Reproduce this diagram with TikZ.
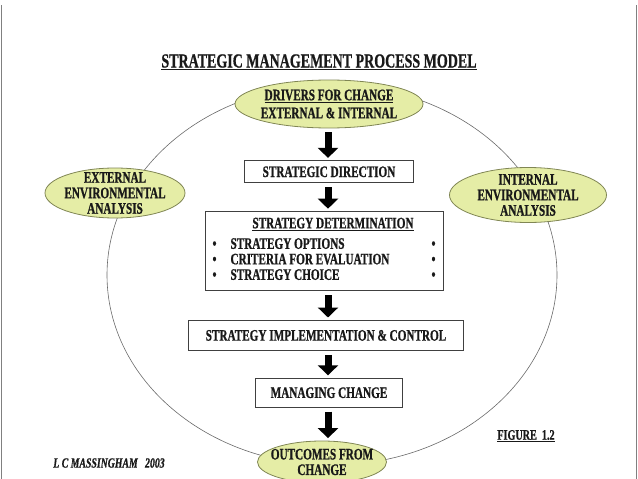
\documentclass[tikz,border=0pt]{standalone}
\usepackage{fontspec}
\setmainfont{Liberation Serif}[FakeStretch=0.70,
    BoldFeatures={FakeBold=0.8}, BoldItalicFeatures={FakeBold=0.8}]
\usepackage{xcolor}
\usepackage{tikz}
\usetikzlibrary{positioning,arrows.meta,shapes.geometric}

\definecolor{ellfill}{RGB}{229,237,166}
\definecolor{elledge}{RGB}{128,134,84}
\definecolor{ringgray}{RGB}{105,105,105}
\definecolor{inkgray}{RGB}{25,25,25}

\begin{document}
\begin{tikzpicture}[
    x=1pt, y=-1pt,
    every node/.style={font=\fontsize{16}{15.5}\selectfont\bfseries,
                       text=inkgray, align=center},
    box/.style={rectangle, draw=black!75, line width=0.8pt, fill=white,
                inner sep=4pt},
    ell/.style={ellipse, draw=elledge, line width=0.8pt, fill=ellfill,
                inner sep=0pt},
    arr/.style={line width=7pt, -{Triangle[width=20pt,length=10pt]},
                shorten <=4pt, shorten >=2.5pt},
    ring/.style={draw=ringgray, line width=0.6pt},
    edge/.style={draw=black!50, line width=0.9pt}
]
\useasboundingbox (0,0) rectangle (638,479);

% page edges
\draw[edge] (1.5,5) -- (1.5,479);
\draw[edge] (636.5,5) -- (636.5,479);

% outer cycle
\coordinate (hub) at (332,275);
\draw[ring] (hub) ellipse [x radius=225, y radius=190];

\node[font=\fontsize{20}{24}\selectfont\bfseries] (title) at (319,62)
    {\underline{STRATEGIC MANAGEMENT PROCESS MODEL}};

\node[ell, minimum width=188pt, minimum height=48pt,
      label={center:{\underline{DRIVERS FOR CHANGE}\\[2.5pt]EXTERNAL \& INTERNAL}}]
      (drivers) at (329,104) {};
\node[ell, minimum width=140pt, minimum height=50pt,
      label={center:{EXTERNAL\\ENVIRONMENTAL\\ANALYSIS}}]
      (external) at (115,193) {};
\node[ell, minimum width=157pt, minimum height=55pt,
      label={center:{INTERNAL\\ENVIRONMENTAL\\ANALYSIS}}]
      (internal) at (528,195) {};

% main spine
\node[box, minimum width=169pt, minimum height=22pt, below=32pt of drivers]
      (direction) {STRATEGIC DIRECTION};
\node[box, minimum width=238pt, minimum height=79pt, below=28pt of direction,
      xshift=-5pt] (determination)
      {\hspace*{18pt}\underline{STRATEGY DETERMINATION}\\[6.5pt]
       \begin{tabular}{@{}p{18pt}@{}p{201pt}@{}r@{}}
       \textbullet & STRATEGY OPTIONS & \textbullet\\
       \textbullet & CRITERIA FOR EVALUATION & \textbullet\\
       \textbullet & STRATEGY CHOICE & \textbullet
       \end{tabular}};
\node[box, minimum width=275pt, minimum height=30pt, below=29pt of determination,
      xshift=2pt] (implementation) {STRATEGY IMPLEMENTATION \& CONTROL};
\node[box, minimum width=147pt, minimum height=29pt, below=27pt of implementation,
      xshift=3pt] (managing) {\raisebox{-3pt}{MANAGING CHANGE}};
\node[ell, minimum width=129pt, minimum height=42pt, below=33pt of managing,
      xshift=-7pt, label={center:{OUTCOMES FROM\\CHANGE}}] (outcomes) {};

\coordinate (spine) at (328,0);
\draw[arr] (spine |- drivers.south) -- (spine |- direction.north);
\draw[arr] (spine |- direction.south) -- (spine |- determination.north);
\draw[arr] (spine |- determination.south) -- (spine |- implementation.north);
\draw[arr] (spine |- implementation.south) -- (spine |- managing.north);
\draw[arr] (spine |- managing.south) -- (spine |- outcomes.north);

\node[font=\fontsize{14.5}{17}\selectfont\bfseries] (figno) at (526,436)
    {\underline{FIGURE\ \ 1.2}};
\node[font=\fontsize{14}{17}\selectfont\bfseries\itshape] (author) at (109,463)
    {L C MASSINGHAM\ \ \ 2003};
\end{tikzpicture}
\end{document}
